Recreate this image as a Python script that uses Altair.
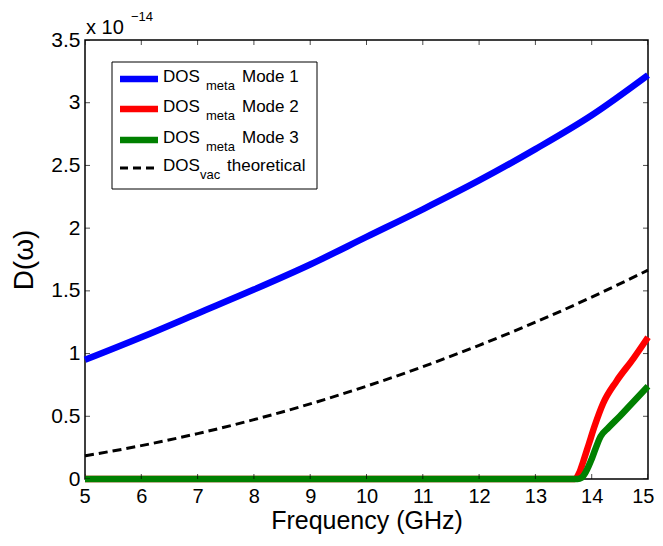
import altair as alt
import pandas as pd

# ---- data (values in units of 1e-14) ----
freq = [5, 6, 7, 8, 9, 10, 11, 12, 13, 14, 15]
mode1 = [0.95, 1.13, 1.32, 1.51, 1.71, 1.93, 2.15, 2.38, 2.63, 2.90, 3.22]
vac = [0.185, 0.266, 0.362, 0.473, 0.599, 0.74, 0.895, 1.066, 1.25, 1.45, 1.665]
mode2_freq = [5, 13.7, 13.78, 13.85, 13.95, 14.05, 14.2, 14.44, 14.74, 15.0]
mode2 = [0, 0, 0.05, 0.14, 0.28, 0.42, 0.60, 0.78, 0.96, 1.13]
mode3_freq = [5, 13.75, 13.82, 13.9, 14.0, 14.1, 14.16, 14.3, 14.5, 14.75, 15.0]
mode3 = [0, 0, 0.01, 0.06, 0.16, 0.28, 0.34, 0.41, 0.50, 0.62, 0.74]

x_ticks = [5, 6, 7, 8, 9, 10, 11, 12, 13, 14, 15]
y_ticks = [0, 0.5, 1, 1.5, 2, 2.5, 3, 3.5]

legend_main = ["DOS", "DOS", "DOS", "DOS"]
legend_sub = ["meta", "meta", "meta", "vac"]
legend_tail = ["Mode 1", "Mode 2", "Mode 3", "theoretical"]
series_colors = ["#0000ff", "#ff0000", "#008000", "#000000"]

FONT = "Liberation Sans"
W, H = 563, 439

rows = []
for f, v in zip(freq, mode1):
    rows.append({"f": f, "v": v, "s": "m1"})
for f, v in zip(mode2_freq, mode2):
    rows.append({"f": f, "v": v, "s": "m2"})
for f, v in zip(mode3_freq, mode3):
    rows.append({"f": f, "v": v, "s": "m3"})
for f, v in zip(freq, vac):
    rows.append({"f": f, "v": v, "s": "vac"})
df = pd.DataFrame(rows)

X = alt.X("f:Q",
          scale=alt.Scale(domain=[5, 15], nice=False, zero=False),
          axis=alt.Axis(values=x_ticks, title="Frequency (GHz)", grid=False,
                        domain=False, ticks=False, tickSize=0, labelPadding=7,
                        labelFlush=True, labelFlushOffset=6, labelOverlap=False,
                        labelFontSize=20, titleFontSize=25, titleY=49.5,
                        titleBaseline="alphabetic"))
Y = alt.Y("v:Q",
          scale=alt.Scale(domain=[0, 3.5], nice=False),
          axis=alt.Axis(values=y_ticks, format="~g", title="D(ω)", grid=False,
                        domain=False, ticks=False, tickSize=0, labelPadding=5,
                        labelOverlap=False, labelFontSize=21, titleFontSize=28,
                        titleX=-61, titleY=H / 2, titleBaseline="middle"))

base = alt.Chart(df).encode(x=X, y=Y)


def line_layer(key, color, width, dash=None):
    kw = dict(color=color, strokeWidth=width, interpolate="monotone")
    if dash is not None:
        kw["strokeDash"] = dash
    return base.transform_filter(alt.datum.s == key).mark_line(**kw)


layers = [
    line_layer("m1", series_colors[0], 6.5),
    line_layer("m2", series_colors[1], 6.5),
    line_layer("m3", series_colors[2], 6.5),
    line_layer("vac", series_colors[3], 3, [9, 5]),
]

# inward box ticks (MATLAB style) on all four sides
xt = pd.DataFrame([{"f": t, "v": e} for t in x_ticks for e in (0, 3.5)])
yt = pd.DataFrame([{"f": e, "v": t} for t in y_ticks for e in (5, 15)])
layers.append(alt.Chart(xt).mark_tick(orient="vertical", size=10, thickness=1,
                                      color="black", clip=True).encode(x=X, y=Y))
layers.append(alt.Chart(yt).mark_tick(orient="horizontal", size=10, thickness=1,
                                      color="black", clip=True).encode(x=X, y=Y))

one = pd.DataFrame({"k": [0]})

# exponent label
layers.append(alt.Chart(one).mark_text(text="x 10", font=FONT, fontSize=20,
                                       align="left", baseline="alphabetic",
                                       color="black")
              .encode(x=alt.value(1), y=alt.value(-6)))
layers.append(alt.Chart(one).mark_text(text="−14", font=FONT, fontSize=13,
                                       align="left", baseline="alphabetic",
                                       color="black")
              .encode(x=alt.value(46), y=alt.value(-19)))

# legend box
layers.append(alt.Chart(one).mark_rect(fill="white", stroke="black", strokeWidth=1)
              .encode(x=alt.value(27), x2=alt.value(232),
                      y=alt.value(22), y2=alt.value(149)))

row_y = [39, 69, 100, 128]
sub_x = [121, 121, 121, 115]
tail_x = [157, 157, 157, 142]
for i in range(4):
    kw = dict(color=series_colors[i], strokeWidth=6.5 if i < 3 else 3)
    if i == 3:
        kw["strokeDash"] = [8, 5]
    layers.append(alt.Chart(one).mark_rule(**kw)
                  .encode(x=alt.value(35), x2=alt.value(73), y=alt.value(row_y[i])))
    layers.append(alt.Chart(one).mark_text(text=legend_main[i], font=FONT, fontSize=17,
                                           align="left", baseline="alphabetic",
                                           color="black")
                  .encode(x=alt.value(78), y=alt.value(row_y[i] + 3)))
    layers.append(alt.Chart(one).mark_text(text=legend_sub[i], font=FONT, fontSize=13,
                                           align="left", baseline="alphabetic",
                                           color="black")
                  .encode(x=alt.value(sub_x[i]), y=alt.value(row_y[i] + 10.5)))
    layers.append(alt.Chart(one).mark_text(text=legend_tail[i], font=FONT, fontSize=17,
                                           align="left", baseline="alphabetic",
                                           color="black")
                  .encode(x=alt.value(tail_x[i]), y=alt.value(row_y[i] + 3)))

chart = alt.layer(*layers).properties(
    width=W, height=H,
    autosize=alt.AutoSizeParams(type="none"),
    padding={"left": 77, "top": 32, "right": 7, "bottom": 55},
    background="white",
).configure_view(stroke="black", strokeWidth=1.5).configure_axis(
    labelFont=FONT, titleFont=FONT, labelColor="black", titleColor="black",
    titleFontWeight="normal"
)

chart.save("out.html", embed_options={"renderer": "svg", "actions": False})
